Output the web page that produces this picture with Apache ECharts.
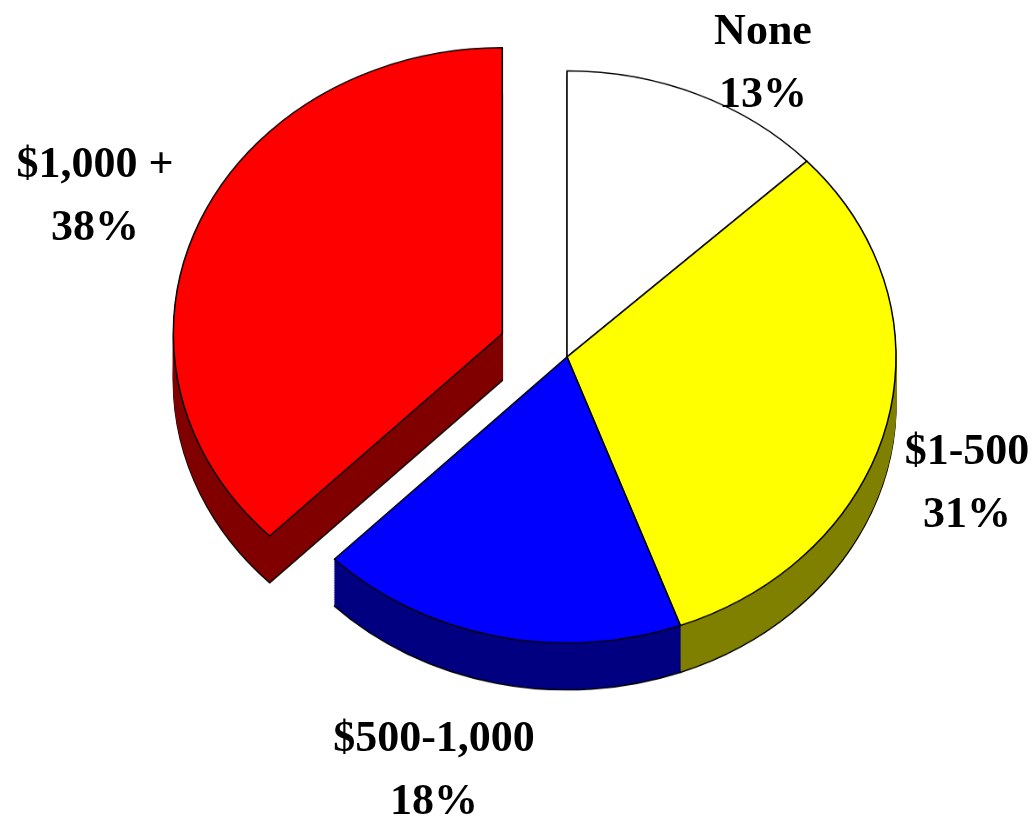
<!DOCTYPE html>
<html lang="en">
<head>
<meta charset="utf-8">
<title>Pie 3D</title>
<style type="text/css">
  *{padding:0;margin:0;}
  body,html{width:1036px;height:818px;background:#fff;overflow:hidden;}
  /* pie is drawn round, then squashed to look tilted */
  #pie{position:absolute;left:0;top:0;width:1036px;height:941px;transform:scaleY(0.8693);transform-origin:0 0;}
  #labels{position:absolute;left:0;top:0;width:1036px;height:818px;}
</style>
</head>
<body>
<div id="pie"></div>
<div id="labels"></div>
<script src="https://cdn.jsdelivr.net/npm/echarts@6/dist/echarts.min.js"></script>
<script type="text/javascript">
var categories = ['None', '$1-500', '$500-1,000', '$1,000 +'];
var shares = [13.0, 31.4, 18.1, 37.5];
var topColors = ['#ffffff', '#ffff00', '#0000ff', '#ff0000'];
var sideColors = ['#808080', '#808000', '#000080', '#800000'];
var explodedIndex = 3;

var cx = 567, cy = 410.6, radius = 329, depth = 54;

function makePie(offset, colors, outline) {
    return {
        type: 'pie',
        radius: radius,
        center: [cx, cy + offset],
        startAngle: 90,
        clockwise: true,
        selectedMode: 'single',
        selectedOffset: 70,
        silent: true,
        animation: false,
        label: {show: false},
        labelLine: {show: false},
        emphasis: {disabled: true},
        select: {itemStyle: {}},
        data: categories.map(function (c, i) {
            return {
                name: c,
                value: shares[i],
                selected: i === explodedIndex,
                itemStyle: {
                    color: colors[i],
                    borderColor: outline ? '#000' : colors[i],
                    borderWidth: outline ? 1.5 : 1
                }
            };
        })
    };
}

var series = [makePie(depth, sideColors, true)];
for (var d = depth - 2; d > 0; d -= 2) {
    series.push(makePie(d, sideColors, false));
}
series.push(makePie(0, topColors, true));

var pieChart = echarts.init(document.getElementById('pie'));
pieChart.setOption({
    animation: false,
    series: series
});

// labels, drawn unsquashed on top
var labelPos = [[763, 64], [967, 484], [434, 771], [95, 197]];
var labelChart = echarts.init(document.getElementById('labels'));
labelChart.setOption({
    animation: false,
    graphic: categories.map(function (c, i) {
        return {
            type: 'text',
            x: labelPos[i][0],
            y: labelPos[i][1],
            silent: true,
            style: {
                text: c + '\n' + Math.round(shares[i]) + '%',
                font: 'bold 44px "Liberation Serif", "Times New Roman", serif',
                fill: '#000',
                align: 'center',
                verticalAlign: 'middle',
                lineHeight: 63
            }
        };
    })
});
</script>
</body>
</html>
